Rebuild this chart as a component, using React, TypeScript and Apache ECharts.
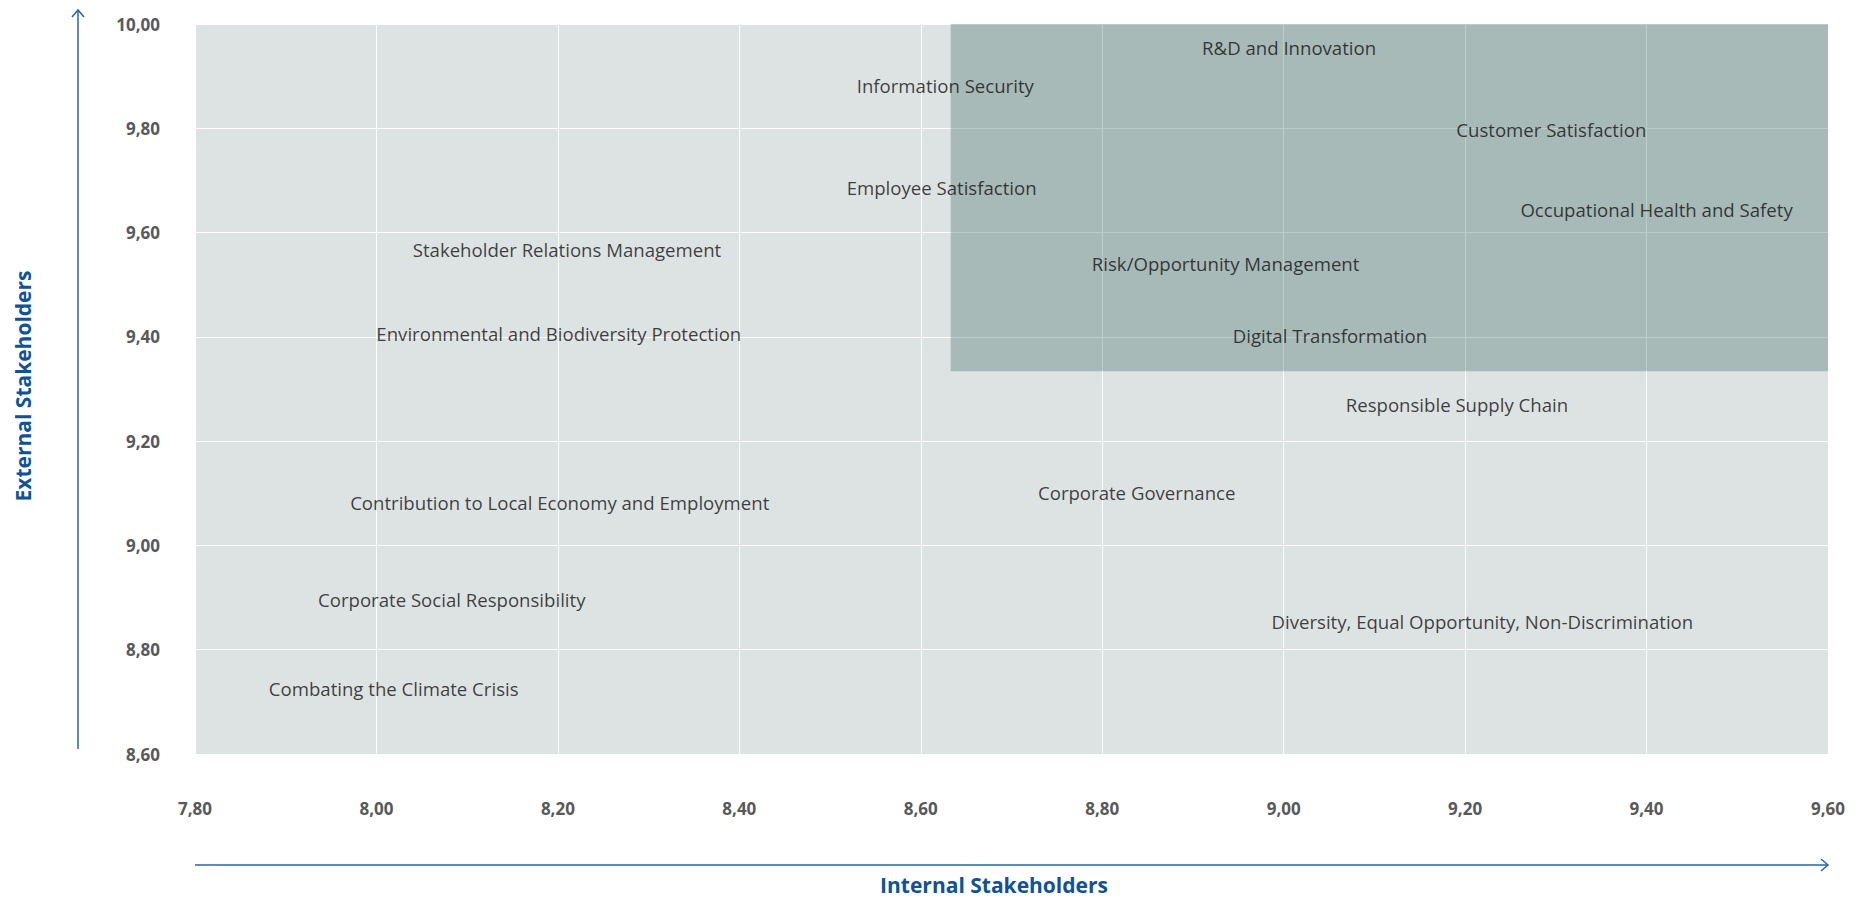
import React, { useEffect, useRef } from "react";
import * as echarts from "echarts";

const topicNames = [
  "R&D and Innovation",
  "Information Security",
  "Customer Satisfaction",
  "Employee Satisfaction",
  "Occupational Health and Safety",
  "Stakeholder Relations Management",
  "Risk/Opportunity Management",
  "Environmental and Biodiversity Protection",
  "Digital Transformation",
  "Responsible Supply Chain",
  "Corporate Governance",
  "Contribution to Local Economy and Employment",
  "Corporate Social Responsibility",
  "Diversity, Equal Opportunity, Non-Discrimination",
  "Combating the Climate Crisis",
];
const internalScores = [9.006, 8.627, 9.295, 8.623, 9.411, 8.21, 8.936, 8.201, 9.051, 9.191, 8.838, 8.202, 8.083, 9.219, 8.019];
const externalScores = [9.954, 9.883, 9.797, 9.687, 9.644, 9.567, 9.541, 9.407, 9.402, 9.27, 9.101, 9.083, 8.896, 8.855, 8.725];

const xMin = 7.8;
const xMax = 9.6;
const yMin = 8.6;
const yMax = 10.0;
const tickStep = 0.2;
const priorityThresholdX = 8.633;
const priorityThresholdY = 9.334;

const fmt = (v: number) => v.toFixed(2).replace(".", ",");

export default function App() {
  const ref = useRef<HTMLDivElement>(null);
  useEffect(() => {
    if (!ref.current) return;
    const chart = echarts.init(ref.current, undefined, { renderer: "svg" });
    const blue = "#2765a3";
    chart.setOption({
      animation: false,
      textStyle: { fontFamily: "Open Sans" },
      grid: {
        left: 195,
        right: 33,
        top: 24,
        bottom: 145,
        show: true,
        backgroundColor: "#dde3e3",
        borderWidth: 0,
      },
      xAxis: {
        type: "value",
        min: xMin,
        max: xMax,
        interval: tickStep,
        axisLine: { show: false },
        axisTick: { show: false },
        splitLine: { show: true, lineStyle: { color: "#ffffff", width: 1 } },
        axisLabel: {
          formatter: fmt,
          color: "#595959",
          fontWeight: "bold",
          fontSize: 17,
          fontFamily: "Open Sans",
          margin: 46,
        },
      },
      yAxis: {
        type: "value",
        min: yMin,
        max: yMax,
        interval: tickStep,
        axisLine: { show: false },
        axisTick: { show: false },
        splitLine: { show: true, lineStyle: { color: "#ffffff", width: 1 } },
        axisLabel: {
          formatter: fmt,
          color: "#595959",
          fontWeight: "bold",
          fontSize: 17,
          fontFamily: "Open Sans",
          margin: 35,
        },
      },
      series: [
        {
          type: "scatter",
          symbolSize: 1,
          itemStyle: { color: "transparent" },
          data: topicNames.map((n, i) => ({ name: n, value: [internalScores[i], externalScores[i]] })),
          label: {
            show: true,
            position: "inside",
            formatter: "{b}",
            color: "#111111",
            fontSize: 18.6,
            fontFamily: "Open Sans",
          },
          markArea: {
            silent: true,
            itemStyle: { color: "rgba(79,122,114,0.38)" },
            data: [
              [
                { xAxis: priorityThresholdX, yAxis: priorityThresholdY },
                { xAxis: xMax, yAxis: yMax },
              ],
            ],
          },
        },
      ],
      graphic: [
        {
          type: "line",
          shape: { x1: 78, y1: 10, x2: 78, y2: 749 },
          style: { stroke: blue, lineWidth: 1.5 },
        },
        {
          type: "polyline",
          shape: { points: [[72, 17], [78, 10], [84, 17]] },
          style: { stroke: blue, lineWidth: 1.5, fill: null },
        },
        {
          type: "line",
          shape: { x1: 195, y1: 865, x2: 1828, y2: 865 },
          style: { stroke: blue, lineWidth: 1.5 },
        },
        {
          type: "polyline",
          shape: { points: [[1821, 859], [1828, 865], [1821, 871]] },
          style: { stroke: blue, lineWidth: 1.5, fill: null },
        },
        {
          type: "text",
          x: 994,
          y: 885,
          style: {
            text: "Internal Stakeholders",
            fill: "#0f5296",
            font: "bold 21px 'Open Sans'",
            lineHeight: 21,
            align: "center",
            verticalAlign: "middle",
          },
        },
        {
          type: "text",
          x: 23,
          y: 386,
          rotation: Math.PI / 2,
          style: {
            text: "External Stakeholders",
            fill: "#0f5296",
            font: "bold 21px 'Open Sans'",
            lineHeight: 21,
            align: "center",
            verticalAlign: "middle",
          },
        },
      ],
    });
    return () => chart.dispose();
  }, []);
  return (
    <div
      ref={ref}
      style={{ position: "fixed", left: 0, top: 0, width: 1861, height: 899, background: "#ffffff" }}
    />
  );
}
